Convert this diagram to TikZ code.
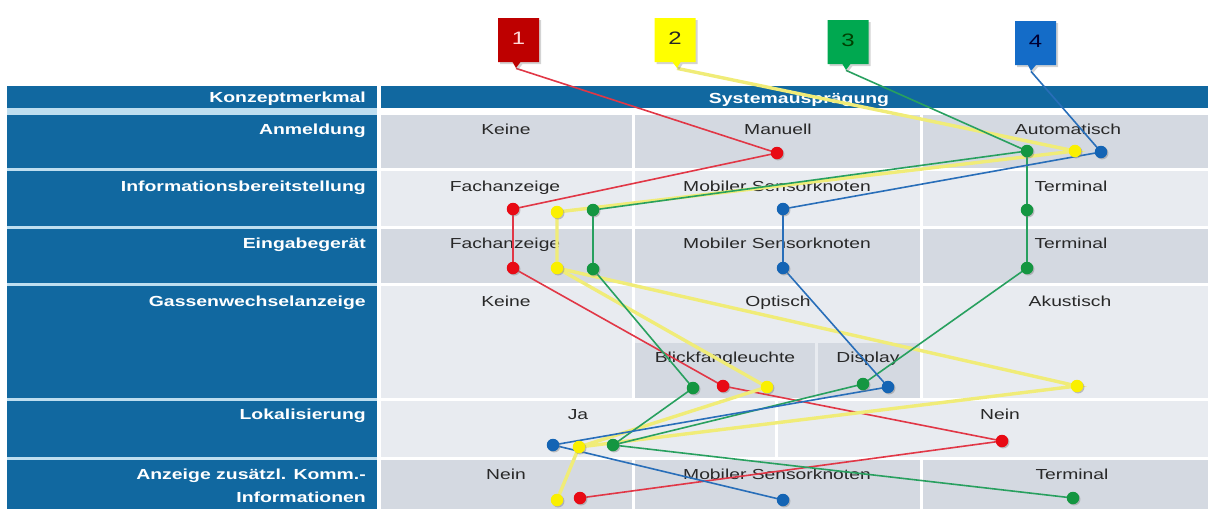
\documentclass[tikz,border=0pt]{standalone}
\usepackage{fontspec}
\setmainfont[FakeStretch=1.33]{Liberation Sans}
\usetikzlibrary{shapes.callouts,shadows}

\definecolor{hdblue}{RGB}{17,104,160}
\definecolor{gapblue}{RGB}{190,222,240}
\definecolor{cellgray}{RGB}{212,217,225}
\definecolor{celllight}{RGB}{232,235,240}
\definecolor{celltext}{RGB}{40,40,40}
\definecolor{dotred}{RGB}{232,10,20}
\definecolor{dotyellow}{RGB}{250,240,0}
\definecolor{dotgreen}{RGB}{20,150,65}
\definecolor{dotblue}{RGB}{20,100,180}
\definecolor{linkred}{RGB}{225,55,70}
\definecolor{linkyellow}{RGB}{240,236,120}
\definecolor{linkgreen}{RGB}{40,160,95}
\definecolor{linkblue}{RGB}{40,110,185}
\definecolor{badgered}{RGB}{190,0,0}
\definecolor{badgeyellow}{RGB}{255,255,0}
\definecolor{badgegreen}{RGB}{0,168,80}
\definecolor{badgeblue}{RGB}{20,108,200}

\pgfdeclarelayer{table}
\pgfdeclarelayer{links}
\pgfsetlayers{table,links,main}

\tikzset{
  celltxt/.style={font=\fontsize{14.5}{17}\selectfont, text=celltext, inner sep=0pt, anchor=base},
  rowtxt/.style={font=\bfseries\fontsize{14.6}{17}\selectfont, text=white, inner sep=0pt, anchor=base east},
  headtxt/.style={font=\bfseries\fontsize{14.6}{17}\selectfont, text=white, inner sep=0pt, anchor=base},
  pt/.style={circle, minimum size=12.5pt, inner sep=0pt,
    drop shadow={shadow xshift=1.2pt, shadow yshift=-1.2pt, opacity=0.45}},
  badge/.style={rectangle callout, minimum width=41pt, minimum height=44pt, inner sep=0pt,
    callout pointer width=8pt, font=\fontsize{18}{20}\selectfont,
    drop shadow={shadow xshift=2pt, shadow yshift=-2pt, opacity=0.35}},
  redlink/.style={draw=linkred, line width=1.6pt},
  yellowlink/.style={draw=linkyellow, line width=3.4pt},
  greenlink/.style={draw=linkgreen, line width=1.6pt},
  bluelink/.style={draw=linkblue, line width=1.6pt},
}

\begin{document}
\begin{tikzpicture}[x=1pt, y=-1pt]
\useasboundingbox (0,0) rectangle (1208,509);

\begin{pgfonlayer}{table}
  % header bar
  \fill[hdblue] (7,86) rectangle (377,108);
  \fill[hdblue] (381,86) rectangle (1208,108);
  % left column with light gaps between the rows
  \fill[gapblue] (7,108) rectangle (377,509);
  \foreach \ya/\yb in {115/168, 171/226, 229/283, 286/398, 401/457, 460/509}
    \fill[hdblue] (7,\ya) rectangle (377,\yb);
  % value cells: three columns per row
  \foreach \ya/\yb/\col in {115/168/cellgray, 171/226/celllight, 229/283/cellgray,
                           286/398/celllight, 460/509/cellgray} {
    \fill[\col] (381,\ya) rectangle (632,\yb);
    \fill[\col] (635,\ya) rectangle (920,\yb);
    \fill[\col] (923,\ya) rectangle (1208,\yb);
  }
  % sub cells of the optical display
  \fill[cellgray] (635,343) rectangle (815,398);
  \fill[cellgray] (818,343) rectangle (920,398);
  % localisation row: two cells
  \fill[celllight] (381,401) rectangle (775,457);
  \fill[celllight] (778,401) rectangle (1208,457);

  % header texts
  \node[rowtxt] (h-konzept) at (366,102) {Konzeptmerkmal};
  \node[headtxt] (h-system) at (799,103) {Systemausprägung};

  % row titles
  \node[rowtxt] (l-anm) at (366,134) {Anmeldung};
  \node[rowtxt] (l-info) at (366,191) {Informationsbereitstellung};
  \node[rowtxt] (l-eing) at (366,248) {Eingabegerät};
  \node[rowtxt] (l-gass) at (366,306) {Gassenwechselanzeige};
  \node[rowtxt] (l-lok) at (366,419) {Lokalisierung};
  \node[rowtxt] (l-anz1) at (366,479) {Anzeige zusätzl. Komm.-};
  \node[rowtxt] (l-anz2) at (366,502) {Informationen};

  % cell texts
  \node[celltxt] (c-anm1) at (506,134) {Keine};
  \node[celltxt] (c-anm2) at (778,134) {Manuell};
  \node[celltxt] (c-anm3) at (1068,134) {Automatisch};
  \node[celltxt] (c-info1) at (505,191) {Fachanzeige};
  \node[celltxt] (c-info2) at (777,191) {Mobiler Sensorknoten};
  \node[celltxt] (c-info3) at (1071,191) {Terminal};
  \node[celltxt] (c-eing1) at (505,248) {Fachanzeige};
  \node[celltxt] (c-eing2) at (777,248) {Mobiler Sensorknoten};
  \node[celltxt] (c-eing3) at (1071,248) {Terminal};
  \node[celltxt] (c-gass1) at (506,306) {Keine};
  \node[celltxt] (c-gass2) at (778,306) {Optisch};
  \node[celltxt] (c-gass3) at (1070,306) {Akustisch};
  \node[celltxt] (c-blick) at (725,362) {Blickfangleuchte};
  \node[celltxt] (c-disp) at (868,362) {Display};
  \node[celltxt] (c-lok1) at (578,419) {Ja};
  \node[celltxt] (c-lok2) at (1000,419) {Nein};
  \node[celltxt] (c-anz1) at (506,479) {Nein};
  \node[celltxt] (c-anz2) at (777,479) {Mobiler Sensorknoten};
  \node[celltxt] (c-anz3) at (1072,479) {Terminal};
\end{pgfonlayer}

% numbered concept badges
\node[badge, fill=badgered, text=white!85!red, callout absolute pointer={(516,68)}] (b1) at (518.5,40) {\raisebox{4pt}{1}};
\node[badge, fill=badgeyellow, text=black!85, callout absolute pointer={(677,68)}] (b2) at (675,40) {\raisebox{4pt}{2}};
\node[badge, fill=badgegreen, text=black!75!green, callout absolute pointer={(846,70)}] (b3) at (848,42) {\raisebox{4pt}{3}};
\node[badge, fill=badgeblue, text=black!80!blue, callout absolute pointer={(1031,71)}] (b4) at (1035.5,43) {\raisebox{4pt}{4}};

% concept 1 (red)
\node[pt, fill=dotred] (r0) at (777,153) {};
\node[pt, fill=dotred] (r1) at (513,209) {};
\node[pt, fill=dotred] (r2) at (513,268) {};
\node[pt, fill=dotred] (r3) at (723,386) {};
\node[pt, fill=dotred] (r4) at (1002,441) {};
\node[pt, fill=dotred] (r5) at (580,498) {};

% concept 2 (yellow)
\node[pt, fill=dotyellow] (ye0) at (1075,151) {};
\node[pt, fill=dotyellow] (ye1) at (557,212) {};
\node[pt, fill=dotyellow] (ye2) at (557,268) {};
\node[pt, fill=dotyellow] (ye3) at (767,387) {};
\node[pt, fill=dotyellow] (ye3b) at (1077,386) {};
\node[pt, fill=dotyellow] (ye4) at (579,447) {};
\node[pt, fill=dotyellow] (ye5) at (557,500) {};

% concept 3 (green)
\node[pt, fill=dotgreen] (gr0) at (1027,151) {};
\node[pt, fill=dotgreen] (gr1) at (593,210) {};
\node[pt, fill=dotgreen] (gr1b) at (1027,210) {};
\node[pt, fill=dotgreen] (gr2) at (593,269) {};
\node[pt, fill=dotgreen] (gr2b) at (1027,268) {};
\node[pt, fill=dotgreen] (gr3) at (693,388) {};
\node[pt, fill=dotgreen] (gr3b) at (863,384) {};
\node[pt, fill=dotgreen] (gr4) at (613,445) {};
\node[pt, fill=dotgreen] (gr5) at (1073,498) {};

% concept 4 (blue)
\node[pt, fill=dotblue] (bl0) at (1101,152) {};
\node[pt, fill=dotblue] (bl1) at (783,209) {};
\node[pt, fill=dotblue] (bl2) at (783,268) {};
\node[pt, fill=dotblue] (bl3) at (888,387) {};
\node[pt, fill=dotblue] (bl4) at (553,445) {};
\node[pt, fill=dotblue] (bl5) at (783,500) {};

\begin{pgfonlayer}{links}
  \draw[redlink] (b1.pointer) -- (r0.center) -- (r1.center) -- (r2.center) -- (r3.center) -- (r4.center) -- (r5.center);

  \draw[yellowlink] (b2.pointer) -- (ye0.center) -- (ye1.center) -- (ye2.center) -- (ye3.center) -- (ye4.center) -- (ye5.center);
  \draw[yellowlink] (ye2.center) -- (ye3b.center) -- (ye4.center);

  \draw[greenlink] (b3.pointer) -- (gr0.center) -- (gr1.center) -- (gr2.center) -- (gr3.center) -- (gr4.center) -- (gr5.center);
  \draw[greenlink] (gr0.center) -- (gr1b.center) -- (gr2b.center) -- (gr3b.center) -- (gr4.center);

  \draw[bluelink] (b4.pointer) -- (bl0.center) -- (bl1.center) -- (bl2.center) -- (bl3.center) -- (bl4.center) -- (bl5.center);
\end{pgfonlayer}
\end{tikzpicture}
\end{document}
